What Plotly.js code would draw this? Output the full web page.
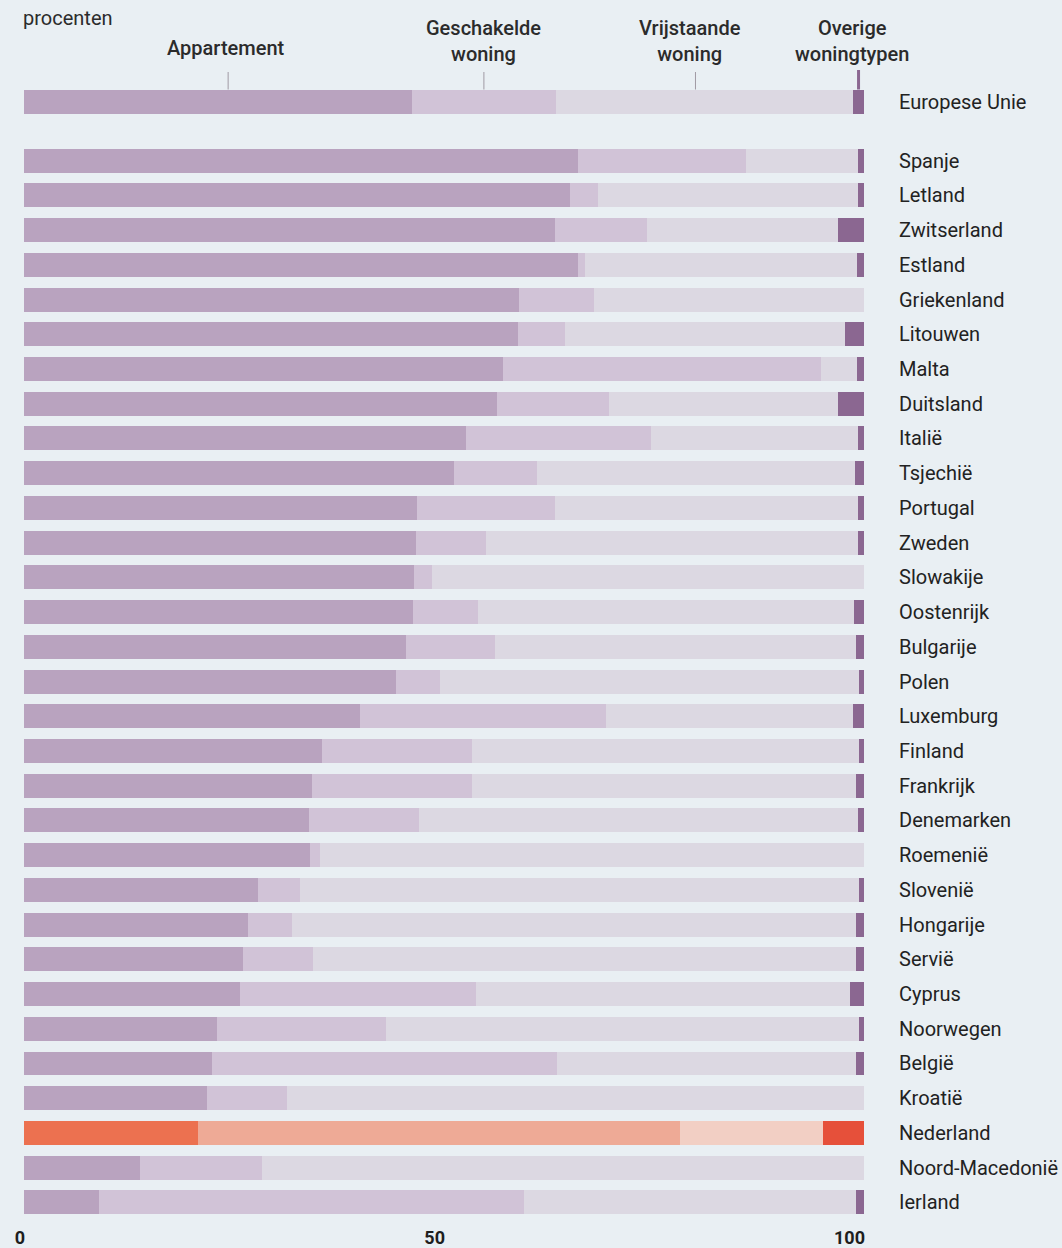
<!DOCTYPE html>
<html>
<head>
<meta charset="utf-8">
<script src="https://cdn.plot.ly/plotly-3.0.1.min.js"></script>
<style>
html,body{margin:0;padding:0;background:#e9eff3;}
#chart{width:1062px;height:1248px;}
</style>
</head>
<body>
<div id="chart"></div>
<script>
// ---- data (percentages) ----
const countries = ['Europese Unie','Spanje','Letland','Zwitserland','Estland','Griekenland','Litouwen','Malta','Duitsland','Italië','Tsjechië','Portugal','Zweden','Slowakije','Oostenrijk','Bulgarije','Polen','Luxemburg','Finland','Frankrijk','Denemarken','Roemenië','Slovenië','Hongarije','Servië','Cyprus','Noorwegen','België','Kroatië','Nederland','Noord-Macedonië','Ierland'];
const appartement = [46.2,66.0,65.0,63.2,66.0,58.9,58.8,57.0,56.3,52.6,51.2,46.8,46.7,46.4,46.3,45.5,44.3,40.0,35.5,34.3,33.9,34.0,27.9,26.7,26.1,25.7,23.0,22.4,21.8,20.7,13.8,8.9];
const geschakelde = [17.1,20.0,3.3,11.0,0.8,9.0,5.6,37.9,13.3,22.0,9.9,16.4,8.3,2.2,7.7,10.6,5.2,29.3,17.8,19.0,13.1,1.2,5.0,5.2,8.3,28.1,20.1,41.1,9.5,57.4,14.5,50.6];
const vrijstaande = [35.4,13.3,31.0,22.7,32.4,32.1,33.3,4.3,27.3,24.7,37.8,36.1,44.3,51.4,44.8,42.9,49.9,29.4,46.1,45.7,52.3,64.8,66.5,67.1,64.6,44.5,56.3,35.6,68.7,17.0,71.7,39.6];
const overige = [1.3,0.7,0.7,3.1,0.8,0.0,2.3,0.8,3.1,0.7,1.1,0.7,0.7,0.0,1.2,1.0,0.6,1.3,0.6,1.0,0.7,0.0,0.6,1.0,1.0,1.7,0.6,0.9,0.0,4.9,0.0,0.9];
const seriesNames = ['Appartement','Geschakelde woning','Vrijstaande woning','Overige woningtypen'];
const headerLabels = ['Appartement','Geschakelde<br>woning','Vrijstaande<br>woning','Overige<br>woningtypen'];
const highlight = 'Nederland';
const xTicks = [0,50,100];

// ---- styles ----
const FONT = 'Roboto, sans-serif';
const baseColors = ['#b9a3bf','#d1c3d7','#dcd8e2','#8b6791'];
const hiColors   = ['#ec7150','#eeaa96','#f2cfc4','#e6503a'];
const series = [appartement, geschakelde, vrijstaande, overige];

// row positions: EU row on top, then a gap before the countries
const GAP = 0.7;
const rowPos = countries.map((c,i)=> i===0 ? 0 : i + GAP);

const traces = series.map((vals,k)=>({
  type:'bar', orientation:'h', name:seriesNames[k],
  y: rowPos, x: vals, width: 0.69, textposition:'none',
  customdata: countries,
  marker:{color: countries.map(c=> c===highlight ? hiColors[k] : baseColors[k]), line:{width:0}},
  hovertemplate:'%{customdata}: %{x}%<extra>'+seriesNames[k]+'</extra>'
}));

// header pointers placed within each EU segment
const pointerFrac = [0.526, 0.5, 0.47, 0.5];
const mids = [];
let cum = 0;
series.forEach((vals,k)=>{ mids.push(cum + vals[0]*pointerFrac[k]); cum += vals[0]; });

const T = 86, PLOT_H = 1132;
const py = p => 1 + (T - p)/PLOT_H;  // pixel row -> paper y

const shapes = mids.map((m,k)=>({
  type:'line', xref:'x', yref:'paper', x0:m, x1:m,
  y0: py(89.5), y1: py(k===3 ? 70 : 72),
  line:{color: k===3 ? '#8b6791' : '#a09aa3', width: k===3 ? 3 : 1}
}));

const headerY = [py(48), py(41), py(41), py(41)];
const headerShift = [-2,0,-5,-7];
const annotations = mids.map((m,k)=>({
  xref:'x', yref:'paper', x:m, y:headerY[k], text:headerLabels[k], showarrow:false,
  xanchor:'center', yanchor:'middle', xshift:headerShift[k],
  font:{family:FONT, size:20, color:'#2b2b2b', weight:500}
}));
annotations.push({
  xref:'paper', yref:'paper', x:0, y:py(18), text:'procenten', showarrow:false,
  xanchor:'left', yanchor:'middle', xshift:-3,
  font:{family:FONT, size:20, color:'#2b2b2b'}
});

const layout = {
  width:1062, height:1248,
  margin:{l:24, r:198, t:T, b:1248-T-PLOT_H},
  paper_bgcolor:'#e9eff3', plot_bgcolor:'#e9eff3',
  barmode:'stack', bargap:0, showlegend:false,
  xaxis:{range:[0,100], tickvals:xTicks, ticktext:xTicks.map(String), showgrid:false, zeroline:false,
         showline:false, ticks:'', ticklabelposition:'outside left', ticklabelshift:1, ticklabelstandoff:7,
         tickfont:{family:FONT, size:18, color:'#1e1e1e', weight:700}, fixedrange:true},
  yaxis:{range:[rowPos[rowPos.length-1]+0.45, -0.45], tickvals:rowPos, ticktext:countries, side:'right',
         showgrid:false, zeroline:false, showline:false, ticks:'', ticklabelstandoff:34,
         tickfont:{family:FONT, size:20, color:'#222222'}, fixedrange:true},
  shapes:shapes, annotations:annotations
};

Plotly.newPlot('chart', traces, layout, {displayModeBar:false, staticPlot:true});
</script>
</body>
</html>
